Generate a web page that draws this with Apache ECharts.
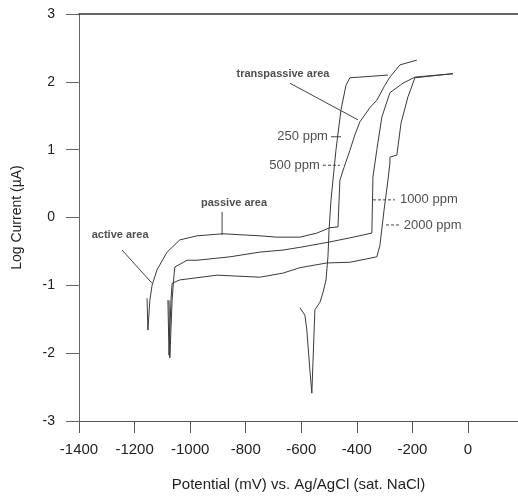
<!DOCTYPE html>
<html>
<head>
<meta charset="utf-8">
<script src="https://cdn.jsdelivr.net/npm/echarts@6/dist/echarts.min.js"></script>
<style>
html, body { margin: 0; padding: 0; background: #fff; }
#chart { width: 518px; height: 498px; }
</style>
</head>
<body>
<div id="chart"></div>
<script>
// potential in mV vs Ag/AgCl, current as log(uA)
var xTicks = [-1400, -1200, -1000, -800, -600, -400, -200, 0];
var yTicks = [-3, -2, -1, 0, 1, 2, 3];

var ppm250X = [-605, -587, -580, -569, -562, -558, -551, -533, -522, -511, -504, -500, -493, -475, -457, -439, -425, -389, -288];
var ppm250Y = [-1.33, -1.44, -1.66, -2.25, -2.59, -2.14, -1.36, -1.25, -1.11, -0.92, -0.58, -0.18, 0.26, 1.0, 1.59, 1.95, 2.06, 2.07, 2.10];

var ppm500X = [-1155, -1152, -1145, -1137, -1119, -1083, -1037, -975, -882, -749, -687, -605, -544, -497, -468, -461, -446, -425, -407, -389, -353, -328, -299, -281, -245, -184];
var ppm500Y = [-1.19, -1.66, -1.22, -1.0, -0.77, -0.51, -0.33, -0.27, -0.24, -0.27, -0.29, -0.29, -0.23, -0.15, -0.14, 0.55, 0.74, 0.99, 1.22, 1.41, 1.62, 1.73, 1.95, 2.07, 2.25, 2.32];

var ppm1000X = [-1076, -1073, -1065, -1058, -1055, -1011, -975, -857, -749, -666, -605, -497, -425, -346, -342, -328, -310, -281, -234, -191, -54];
var ppm1000Y = [-1.22, -2.07, -1.22, -0.85, -0.73, -0.63, -0.63, -0.58, -0.51, -0.48, -0.44, -0.36, -0.30, -0.23, 0.60, 1.0, 1.48, 1.84, 1.98, 2.07, 2.12];

var ppm2000X = [-1080, -1076, -1069, -1065, -1037, -903, -749, -666, -605, -508, -425, -328, -317, -302, -288, -281, -281, -256, -241, -216, -191, -54];
var ppm2000Y = [-1.22, -2.03, -1.22, -0.97, -0.92, -0.85, -0.88, -0.82, -0.74, -0.67, -0.66, -0.58, -0.41, 0.11, 0.55, 0.80, 0.89, 0.92, 1.39, 1.78, 2.06, 2.12];

function zip(xs, ys) {
    var out = [];
    for (var i = 0; i < xs.length; i++) out.push([xs[i], ys[i]]);
    return out;
}

var curveColor = '#3a3a3a';
var font = 'Liberation Sans, Arial, sans-serif';

function curve(name, xs, ys) {
    return {
        name: name,
        type: 'line',
        data: zip(xs, ys),
        showSymbol: false,
        silent: true,
        lineStyle: { color: curveColor, width: 1 },
        animation: false
    };
}

function leader(a, b, dashed) {
    return {
        type: 'line',
        data: [a, b],
        showSymbol: false,
        silent: true,
        lineStyle: { color: '#444', width: 1, type: dashed ? [3, 2] : 'solid' },
        animation: false
    };
}

// annotation texts (data coords)
var notes = [
    { value: [-666, 2.12], name: 'transpassive area', size: 11, bold: true, align: 'center' },
    { value: [-842, 0.21], name: 'passive area', size: 11, bold: true, align: 'center' },
    { value: [-1252, -0.26], name: 'active area', size: 11, bold: true, align: 'center' },
    { value: [-504, 1.19], name: '250 ppm', size: 13, bold: false, align: 'right' },
    { value: [-533, 0.77], name: '500 ppm', size: 13, bold: false, align: 'right' },
    { value: [-245, 0.26], name: '1000 ppm', size: 13, bold: false, align: 'left' },
    { value: [-231, -0.11], name: '2000 ppm', size: 13, bold: false, align: 'left' }
];

var chart = echarts.init(document.getElementById('chart'));

var option = {
    backgroundColor: '#fff',
    animation: false,
    grid: { left: 79, top: 14, right: 0, bottom: 77 },
    xAxis: [
        {
            type: 'value',
            min: -1400,
            max: 180,
            name: 'Potential (mV) vs. Ag/AgCl (sat. NaCl)',
            nameLocation: 'middle',
            nameGap: 56,
            nameTextStyle: { fontFamily: font, fontSize: 15, color: '#222' },
            axisLine: { onZero: false, lineStyle: { color: '#555', width: 1 } },
            axisTick: { show: true, length: 12, customValues: xTicks, lineStyle: { color: '#555' } },
            axisLabel: {
                customValues: xTicks, margin: 21, fontFamily: font, fontSize: 15, color: '#222',
                formatter: function (v) { return String(v); }
            },
            splitLine: { show: false }
        },
        {
            type: 'value',
            position: 'top',
            min: -1400,
            max: 180,
            axisLine: { show: true, onZero: false, lineStyle: { color: '#333', width: 1.6 } },
            axisTick: { show: false },
            axisLabel: { show: false },
            splitLine: { show: false }
        }
    ],
    yAxis: {
        type: 'value',
        min: -3,
        max: 3,
        interval: 1,
        name: 'Log Current (\u00b5A)',
        nameLocation: 'middle',
        nameGap: 55,
        nameTextStyle: { fontFamily: font, fontSize: 14, color: '#222' },
        axisLine: { show: true, onZero: false, lineStyle: { color: '#666', width: 1 } },
        axisTick: { show: true, length: 13, lineStyle: { color: '#666' } },
        axisLabel: { margin: 24, fontFamily: font, fontSize: 14, color: '#222' },
        splitLine: { show: false }
    },
    series: [
        curve('250 ppm', ppm250X, ppm250Y),
        curve('500 ppm', ppm500X, ppm500Y),
        curve('1000 ppm', ppm1000X, ppm1000Y),
        curve('2000 ppm', ppm2000X, ppm2000Y),
        leader([-641, 1.98], [-396, 1.44], false),
        leader([-885, 0.08], [-885, -0.26], false),
        leader([-1245, -0.48], [-1137, -0.97], false),
        leader([-493, 1.19], [-457, 1.19], false),
        leader([-522, 0.77], [-461, 0.77], true),
        leader([-342, 0.26], [-263, 0.26], true),
        leader([-295, -0.11], [-245, -0.11], true),
        {
            type: 'scatter',
            symbolSize: 0,
            silent: true,
            data: notes.map(function (n) {
                return {
                    value: n.value,
                    name: n.name,
                    label: {
                        show: true,
                        position: 'inside',
                        align: n.align,
                        verticalAlign: 'middle',
                        formatter: n.name,
                        fontFamily: font,
                        fontSize: n.size,
                        fontWeight: n.bold ? 'bold' : 'normal',
                        color: '#222'
                    }
                };
            })
        }
    ]
};

chart.setOption(option);
</script>
</body>
</html>
